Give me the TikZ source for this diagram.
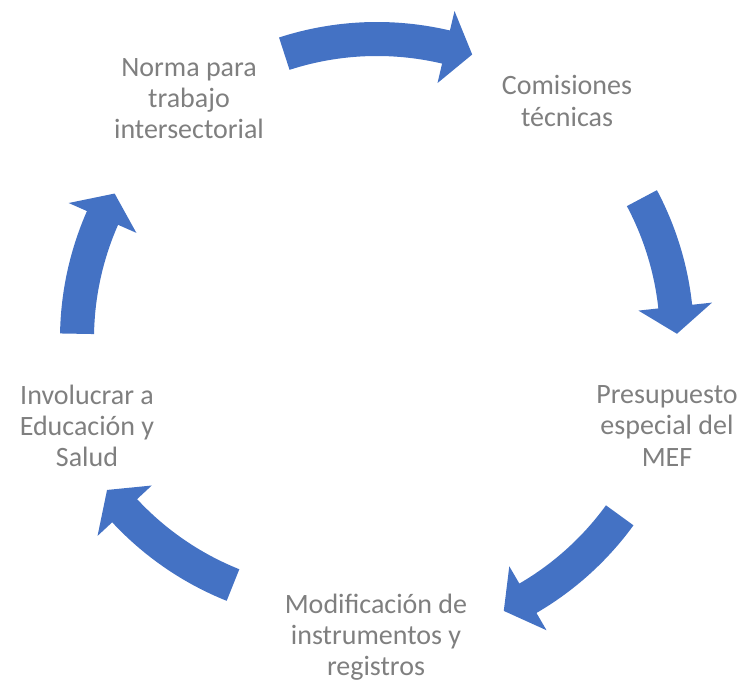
\documentclass[tikz,border=0pt]{standalone}
\usepackage{fontspec}
\setmainfont{Carlito}
\usetikzlibrary{positioning}
\definecolor{cycleblue}{RGB}{68,114,196}
\definecolor{cyclegray}{RGB}{127,127,127}
\tikzset{
  steptext/.style={align=center, text=cyclegray, font=\fontsize{21}{23.3}\selectfont, inner sep=0pt},
  arrowfill/.style={fill=cycleblue}
}
% curved block arrow: [centre] tail angle, tip angle (clockwise)
\newcommand{\cyclearrow}[3][377,342]{%
  \pgfmathsetmacro{\headang}{#3+5.2}
  \fill[arrowfill, shift={(#1)}] (#2:317) arc[start angle=#2, end angle=\headang, radius=317]
    -- (\headang:337) -- (#3:300) -- (\headang:263) -- (\headang:283)
    arc[start angle=\headang, end angle=#2, radius=283] -- cycle;
}

\begin{document}
\begin{tikzpicture}[x=0.75pt, y=0.75pt]
  \useasboundingbox (0,0) rectangle (742,681);
  \node[steptext] (norma) at (189,582) {Norma para\\trabajo\\intersectorial};
  \node[steptext] (comisiones) at (567,580) {Comisiones\\técnicas};
  \node[steptext] (presupuesto) at (667,255) {Presupuesto\\especial del\\MEF};
  \node[steptext] (modificacion) at (376,44) {Modificación de\\instrumentos y\\registros};
  \node[steptext] (involucrar) at (87,255) {Involucrar a\\Educación y\\Salud};
  \cyclearrow{108}{71.5}
  \cyclearrow{28}{1}
  \cyclearrow{-36}{-65}
  \cyclearrow[344.4,374.5]{-111.8}{-142.3}
  \cyclearrow{179}{151}
\end{tikzpicture}
\end{document}
